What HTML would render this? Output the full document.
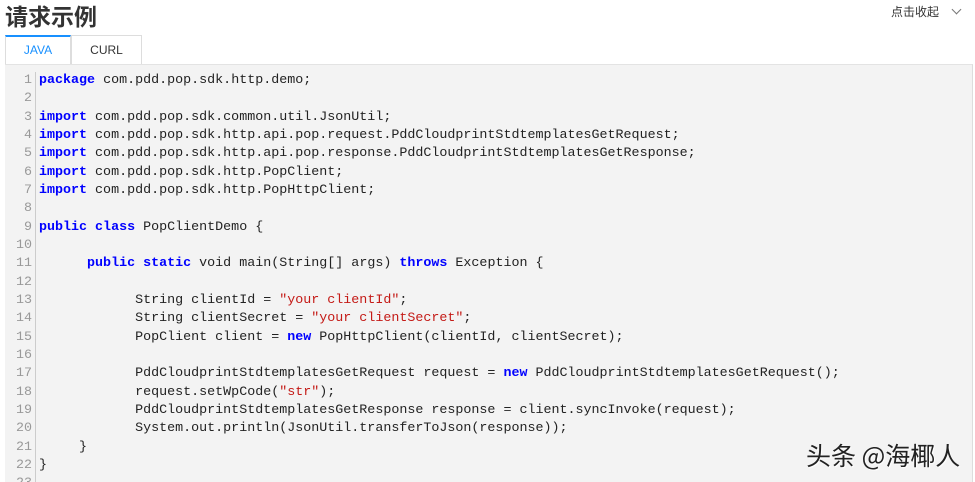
<!DOCTYPE html>
<html><head><meta charset="utf-8"><style>
body{margin:0;width:975px;height:481px;background:#fff;position:relative;overflow:hidden;font-family:"Liberation Sans","Noto Sans CJK SC",sans-serif}
.title{position:absolute;left:5px;top:-2px;font-size:23px;font-weight:bold;color:#333;font-family:"Noto Sans CJK SC",sans-serif}
.collapse{position:absolute;left:891px;top:3px;font-size:12px;color:#333;font-family:"Noto Sans CJK SC",sans-serif}
.chev{position:absolute;left:953px;top:6px;width:6px;height:6px;border-right:1px solid #777;border-bottom:1px solid #777;transform:rotate(45deg)}
.tab{position:absolute;top:35px;height:29px;box-sizing:border-box;border:1px solid #ddd;border-bottom:none;font-size:12px;text-align:center;line-height:28px;background:#fff}
.t1{left:5px;width:66px;color:#1890ff;border-top:2px solid #1890ff;line-height:26px}
.t2{left:71px;width:71px;color:#333}
.code{position:absolute;left:5px;top:64px;width:967px;height:417px;background:#f3f3f3;border-top:1px solid #e3e3e3;border-right:1px solid #ddd;overflow:hidden}
.gut{position:absolute;left:0;top:7px;width:27px;text-align:right;color:#999;border-right:1px solid #ccc;padding-right:3px}
pre{margin:0;font-family:"Liberation Mono",monospace;font-size:13.35px;line-height:18.33px}
.src{position:absolute;left:34px;top:7px;color:#222}
.k{color:#00f;font-weight:bold}.s{color:#c41a16}
.wm{position:absolute;left:806px;top:437px;font-size:25px;color:#222;font-family:"Noto Sans CJK SC",sans-serif;text-shadow:1px 1px 1px #fff}
</style></head><body>
<div class="title">请求示例</div>
<div class="collapse">点击收起</div><div class="chev"></div>
<div class="tab t1">JAVA</div><div class="tab t2">CURL</div>
<div class="code">
<pre class="gut">1
2
3
4
5
6
7
8
9
10
11
12
13
14
15
16
17
18
19
20
21
22
23</pre>
<pre class="src"><span class="k">package</span> com.pdd.pop.sdk.http.demo;

<span class="k">import</span> com.pdd.pop.sdk.common.util.JsonUtil;
<span class="k">import</span> com.pdd.pop.sdk.http.api.pop.request.PddCloudprintStdtemplatesGetRequest;
<span class="k">import</span> com.pdd.pop.sdk.http.api.pop.response.PddCloudprintStdtemplatesGetResponse;
<span class="k">import</span> com.pdd.pop.sdk.http.PopClient;
<span class="k">import</span> com.pdd.pop.sdk.http.PopHttpClient;

<span class="k">public class</span> PopClientDemo {

      <span class="k">public static</span> void main(String[] args) <span class="k">throws</span> Exception {

            String clientId = <span class="s">"your clientId"</span>;
            String clientSecret = <span class="s">"your clientSecret"</span>;
            PopClient client = <span class="k">new</span> PopHttpClient(clientId, clientSecret);

            PddCloudprintStdtemplatesGetRequest request = <span class="k">new</span> PddCloudprintStdtemplatesGetRequest();
            request.setWpCode(<span class="s">"str"</span>);
            PddCloudprintStdtemplatesGetResponse response = client.syncInvoke(request);
            System.out.println(JsonUtil.transferToJson(response));
     }
}</pre>
</div>
<div class="wm">头条 @海椰人</div>
</body></html>
